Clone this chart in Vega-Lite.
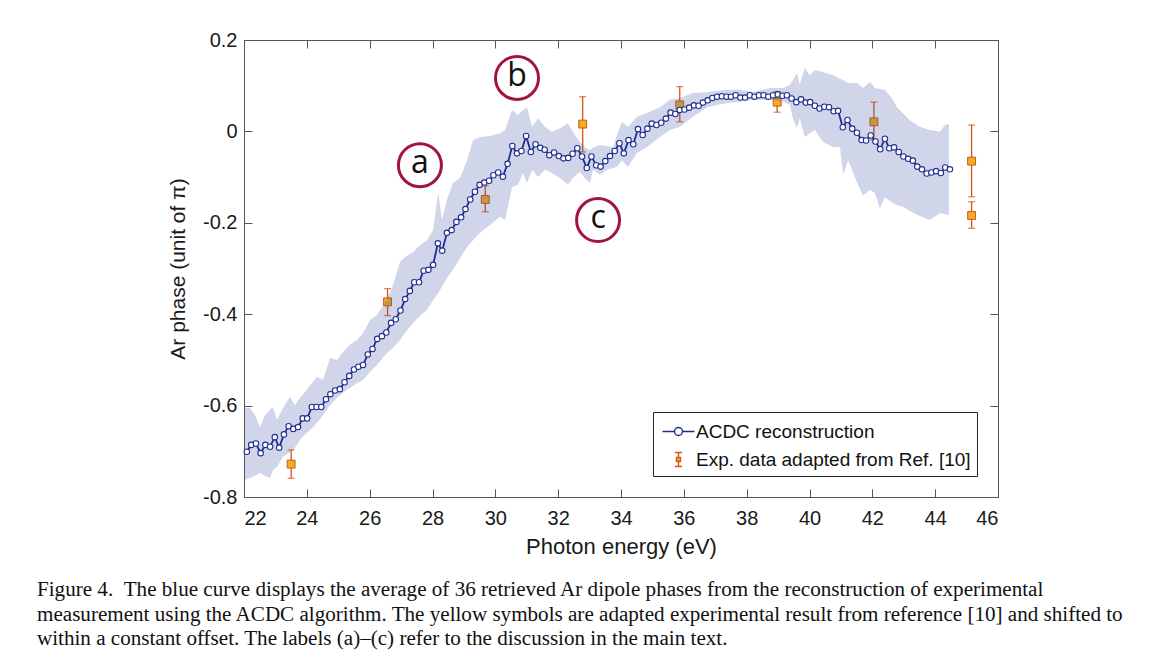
{
  "$schema": "https://vega.github.io/schema/vega-lite/v6.json",
  "width": 754,
  "height": 457,
  "autosize": {"type": "none"},
  "padding": {"left": 244, "top": 40, "right": 167, "bottom": 171},
  "background": "white",
  "config": {
    "view": {"stroke": null},
    "axis": {
      "grid": false,
      "domainColor": "#555555",
      "tickColor": "#555555",
      "labelColor": "#1a1a1a",
      "titleColor": "#1a1a1a",
      "labelFont": "Liberation Sans",
      "titleFont": "Liberation Sans",
      "labelFontSize": 20,
      "titleFontSize": 21,
      "titleFontWeight": "normal",
      "tickSize": -8,
      "domainWidth": 1,
      "tickWidth": 1
    }
  },
  "title": {
    "text": [
      "Figure 4.\u00a0\u00a0The blue curve displays the average of 36 retrieved Ar dipole phases from the reconstruction of experimental",
      "measurement using the ACDC algorithm. The yellow symbols are adapted experimental result from reference [10] and shifted to",
      "within a constant offset. The labels (a)–(c) refer to the discussion in the main text."
    ],
    "orient": "bottom",
    "anchor": "start",
    "frame": "group",
    "align": "left",
    "baseline": "top",
    "dx": -207,
    "offset": 22,
    "font": "Liberation Serif",
    "fontSize": 21.1,
    "fontWeight": "normal",
    "color": "#111111",
    "lineHeight": 24.5
  },
  "datasets": {
    "curve": [
      {"e":22.09,"p":-0.701},{"e":22.23,"p":-0.686},{"e":22.38,"p":-0.683},{"e":22.53,"p":-0.704},{"e":22.68,"p":-0.686},
      {"e":22.83,"p":-0.690},{"e":22.98,"p":-0.669},{"e":23.12,"p":-0.692},{"e":23.27,"p":-0.663},{"e":23.42,"p":-0.645},
      {"e":23.57,"p":-0.651},{"e":23.72,"p":-0.647},{"e":23.87,"p":-0.628},{"e":24.01,"p":-0.628},{"e":24.16,"p":-0.603},
      {"e":24.31,"p":-0.603},{"e":24.46,"p":-0.603},{"e":24.61,"p":-0.586},{"e":24.75,"p":-0.575},{"e":24.90,"p":-0.567},
      {"e":25.05,"p":-0.564},{"e":25.20,"p":-0.549},{"e":25.35,"p":-0.535},{"e":25.50,"p":-0.521},{"e":25.64,"p":-0.515},
      {"e":25.79,"p":-0.511},{"e":25.94,"p":-0.488},{"e":26.09,"p":-0.476},{"e":26.24,"p":-0.454},{"e":26.39,"p":-0.448},
      {"e":26.53,"p":-0.440},{"e":26.68,"p":-0.419},{"e":26.83,"p":-0.411},{"e":26.98,"p":-0.392},{"e":27.13,"p":-0.367},
      {"e":27.28,"p":-0.349},{"e":27.42,"p":-0.330},{"e":27.57,"p":-0.330},{"e":27.72,"p":-0.305},{"e":27.87,"p":-0.303},
      {"e":28.02,"p":-0.292},{"e":28.17,"p":-0.245},{"e":28.31,"p":-0.261},{"e":28.46,"p":-0.222},{"e":28.61,"p":-0.216},
      {"e":28.76,"p":-0.198},{"e":28.91,"p":-0.188},{"e":29.05,"p":-0.170},{"e":29.20,"p":-0.149},{"e":29.35,"p":-0.132},
      {"e":29.50,"p":-0.117},{"e":29.65,"p":-0.112},{"e":29.80,"p":-0.108},{"e":29.94,"p":-0.096},{"e":30.09,"p":-0.090},
      {"e":30.24,"p":-0.099},{"e":30.39,"p":-0.071},{"e":30.54,"p":-0.032},{"e":30.69,"p":-0.048},{"e":30.83,"p":-0.043},
      {"e":30.98,"p":-0.010},{"e":31.13,"p":-0.045},{"e":31.28,"p":-0.028},{"e":31.43,"p":-0.036},{"e":31.57,"p":-0.040},
      {"e":31.72,"p":-0.052},{"e":31.87,"p":-0.046},{"e":32.02,"p":-0.054},{"e":32.17,"p":-0.059},{"e":32.32,"p":-0.058},
      {"e":32.46,"p":-0.049},{"e":32.61,"p":-0.037},{"e":32.76,"p":-0.055},{"e":32.91,"p":-0.080},{"e":33.06,"p":-0.055},
      {"e":33.21,"p":-0.074},{"e":33.35,"p":-0.077},{"e":33.50,"p":-0.065},{"e":33.65,"p":-0.054},{"e":33.80,"p":-0.043},
      {"e":33.95,"p":-0.026},{"e":34.09,"p":-0.048},{"e":34.24,"p":-0.019},{"e":34.39,"p":-0.028},{"e":34.54,"p":0.005},
      {"e":34.69,"p":-0.008},{"e":34.84,"p":0.006},{"e":34.98,"p":0.017},{"e":35.13,"p":0.014},{"e":35.28,"p":0.019},
      {"e":35.43,"p":0.028},{"e":35.58,"p":0.041},{"e":35.73,"p":0.038},{"e":35.87,"p":0.047},{"e":36.02,"p":0.048},
      {"e":36.17,"p":0.052},{"e":36.32,"p":0.057},{"e":36.47,"p":0.056},{"e":36.61,"p":0.063},{"e":36.76,"p":0.068},
      {"e":36.91,"p":0.073},{"e":37.06,"p":0.076},{"e":37.21,"p":0.077},{"e":37.36,"p":0.076},{"e":37.50,"p":0.076},
      {"e":37.65,"p":0.079},{"e":37.80,"p":0.074},{"e":37.95,"p":0.074},{"e":38.10,"p":0.079},{"e":38.25,"p":0.076},
      {"e":38.39,"p":0.079},{"e":38.54,"p":0.079},{"e":38.69,"p":0.076},{"e":38.84,"p":0.079},{"e":38.99,"p":0.081},
      {"e":39.14,"p":0.078},{"e":39.28,"p":0.079},{"e":39.43,"p":0.072},{"e":39.58,"p":0.064},{"e":39.73,"p":0.070},
      {"e":39.88,"p":0.063},{"e":40.02,"p":0.064},{"e":40.17,"p":0.056},{"e":40.32,"p":0.050},{"e":40.47,"p":0.054},
      {"e":40.62,"p":0.053},{"e":40.77,"p":0.044},{"e":40.91,"p":0.045},{"e":41.06,"p":0.009},{"e":41.21,"p":0.025},
      {"e":41.36,"p":0.006},{"e":41.51,"p":-0.003},{"e":41.66,"p":-0.019},{"e":41.80,"p":-0.020},{"e":41.95,"p":-0.009},
      {"e":42.10,"p":-0.022},{"e":42.25,"p":-0.039},{"e":42.40,"p":-0.016},{"e":42.54,"p":-0.037},{"e":42.69,"p":-0.035},
      {"e":42.84,"p":-0.045},{"e":42.99,"p":-0.055},{"e":43.14,"p":-0.060},{"e":43.29,"p":-0.064},{"e":43.43,"p":-0.077},
      {"e":43.58,"p":-0.083},{"e":43.73,"p":-0.092},{"e":43.88,"p":-0.090},{"e":44.03,"p":-0.087},{"e":44.18,"p":-0.091},
      {"e":44.32,"p":-0.079},{"e":44.47,"p":-0.083}
    ],
    "band": [
      {"e":22.03,"hi":-0.605,"lo":-0.763},{"e":22.19,"hi":-0.605,"lo":-0.758},{"e":22.35,"hi":-0.621,"lo":-0.754},
      {"e":22.51,"hi":-0.647,"lo":-0.747},{"e":22.67,"hi":-0.621,"lo":-0.754},{"e":22.83,"hi":-0.609,"lo":-0.758},
      {"e":22.92,"hi":-0.603,"lo":-0.741},{"e":23.05,"hi":-0.631,"lo":-0.734},{"e":23.24,"hi":-0.605,"lo":-0.712},
      {"e":23.46,"hi":-0.581,"lo":-0.702},{"e":23.62,"hi":-0.599,"lo":-0.693},{"e":23.78,"hi":-0.583,"lo":-0.675},
      {"e":23.94,"hi":-0.570,"lo":-0.664},{"e":24.20,"hi":-0.548,"lo":-0.647},{"e":24.32,"hi":-0.537,"lo":-0.638},
      {"e":24.51,"hi":-0.544,"lo":-0.621},{"e":24.74,"hi":-0.496,"lo":-0.599},{"e":24.96,"hi":-0.500,"lo":-0.583},
      {"e":25.15,"hi":-0.483,"lo":-0.572},{"e":25.37,"hi":-0.467,"lo":-0.561},{"e":25.60,"hi":-0.456,"lo":-0.551},
      {"e":25.79,"hi":-0.441,"lo":-0.544},{"e":26.01,"hi":-0.413,"lo":-0.526},{"e":26.23,"hi":-0.402,"lo":-0.511},
      {"e":26.55,"hi":-0.369,"lo":-0.485},{"e":26.74,"hi":-0.336,"lo":-0.474},{"e":26.97,"hi":-0.286,"lo":-0.456},
      {"e":27.12,"hi":-0.275,"lo":-0.441},{"e":27.38,"hi":-0.264,"lo":-0.419},{"e":27.60,"hi":-0.249,"lo":-0.404},
      {"e":27.82,"hi":-0.238,"lo":-0.391},{"e":28.02,"hi":-0.216,"lo":-0.369},{"e":28.18,"hi":-0.133,"lo":-0.354},
      {"e":28.30,"hi":-0.194,"lo":-0.340},{"e":28.46,"hi":-0.150,"lo":-0.321},{"e":28.65,"hi":-0.113,"lo":-0.303},
      {"e":28.88,"hi":-0.102,"lo":-0.277},{"e":29.10,"hi":-0.063,"lo":-0.253},{"e":29.29,"hi":-0.019,"lo":-0.238},
      {"e":29.51,"hi":-0.012,"lo":-0.222},{"e":29.83,"hi":-0.010,"lo":-0.205},{"e":30.15,"hi":-0.004,"lo":-0.187},
      {"e":30.31,"hi":0.003,"lo":-0.194},{"e":30.53,"hi":0.047,"lo":-0.122},{"e":30.72,"hi":0.036,"lo":-0.117},
      {"e":30.88,"hi":0.047,"lo":-0.091},{"e":31.01,"hi":0.053,"lo":-0.113},{"e":31.17,"hi":0.010,"lo":-0.084},
      {"e":31.36,"hi":0.029,"lo":-0.100},{"e":31.58,"hi":0.010,"lo":-0.084},{"e":31.80,"hi":-0.001,"lo":-0.091},
      {"e":32.06,"hi":0.007,"lo":-0.102},{"e":32.31,"hi":0.018,"lo":-0.117},{"e":32.47,"hi":-0.001,"lo":-0.102},
      {"e":32.69,"hi":-0.023,"lo":-0.089},{"e":32.85,"hi":-0.034,"lo":-0.102},{"e":33.01,"hi":-0.041,"lo":-0.113},
      {"e":33.11,"hi":-0.036,"lo":-0.084},{"e":33.33,"hi":-0.030,"lo":-0.095},{"e":33.55,"hi":-0.032,"lo":-0.084},
      {"e":33.75,"hi":-0.034,"lo":-0.080},{"e":33.87,"hi":-0.008,"lo":-0.078},{"e":34.03,"hi":0.021,"lo":-0.063},
      {"e":34.22,"hi":0.010,"lo":-0.078},{"e":34.51,"hi":0.032,"lo":-0.047},{"e":34.83,"hi":0.040,"lo":-0.034},
      {"e":35.24,"hi":0.053,"lo":-0.012},{"e":35.56,"hi":0.069,"lo":0.003},{"e":35.88,"hi":0.073,"lo":0.010},
      {"e":36.29,"hi":0.084,"lo":0.032},{"e":36.74,"hi":0.086,"lo":0.053},{"e":37.37,"hi":0.091,"lo":0.062},
      {"e":37.79,"hi":0.091,"lo":0.065},{"e":38.20,"hi":0.086,"lo":0.069},{"e":38.74,"hi":0.095,"lo":0.069},
      {"e":39.16,"hi":0.095,"lo":0.065},{"e":39.38,"hi":0.102,"lo":0.058},{"e":39.47,"hi":0.112,"lo":0.029},
      {"e":39.60,"hi":0.128,"lo":0.007},{"e":39.69,"hi":0.102,"lo":0.029},{"e":39.85,"hi":0.139,"lo":-0.012},
      {"e":40.01,"hi":0.123,"lo":-0.004},{"e":40.17,"hi":0.134,"lo":0.003},{"e":40.43,"hi":0.130,"lo":-0.023},
      {"e":40.75,"hi":0.123,"lo":-0.034},{"e":40.97,"hi":0.115,"lo":-0.034},{"e":41.07,"hi":0.112,"lo":-0.095},
      {"e":41.23,"hi":0.106,"lo":-0.063},{"e":41.51,"hi":0.106,"lo":-0.111},{"e":41.70,"hi":0.095,"lo":-0.140},
      {"e":41.93,"hi":0.108,"lo":-0.128},{"e":42.08,"hi":0.095,"lo":-0.135},{"e":42.24,"hi":0.093,"lo":-0.168},
      {"e":42.40,"hi":0.091,"lo":-0.144},{"e":42.66,"hi":0.069,"lo":-0.157},{"e":42.78,"hi":0.053,"lo":-0.161},
      {"e":42.97,"hi":0.040,"lo":-0.165},{"e":43.20,"hi":0.024,"lo":-0.174},{"e":43.51,"hi":0.010,"lo":-0.185},
      {"e":43.83,"hi":0.003,"lo":-0.194},{"e":44.15,"hi":-0.001,"lo":-0.179},{"e":44.31,"hi":0.014,"lo":-0.181},
      {"e":44.44,"hi":0.016,"lo":-0.183}
    ],
    "exp": [
      {"e":23.50,"p":-0.728,"hi":-0.697,"lo":-0.759},
      {"e":26.57,"p":-0.373,"hi":-0.344,"lo":-0.403},
      {"e":29.68,"p":-0.149,"hi":-0.119,"lo":-0.176},
      {"e":32.78,"p":0.016,"hi":0.076,"lo":-0.045},
      {"e":35.87,"p":0.058,"hi":0.098,"lo":0.021},
      {"e":38.97,"p":0.064,"hi":0.087,"lo":0.042},
      {"e":42.05,"p":0.021,"hi":0.064,"lo":-0.019},
      {"e":45.16,"p":-0.065,"hi":0.014,"lo":-0.143},
      {"e":45.16,"p":-0.184,"hi":-0.154,"lo":-0.212}
    ],
    "notes": [
      {"e":27.60,"p":-0.074,"t":"a"},
      {"e":30.69,"p":0.117,"t":"b"},
      {"e":33.27,"p":-0.194,"t":"c"}
    ],
    "series": [
      {"series":"ACDC reconstruction"},
      {"series":"Exp. data adapted from Ref. [10]"}
    ]
  },
  "layer": [
    {
      "data": {"name": "exp"},
      "mark": {"type": "rule", "color": "#D95319", "strokeWidth": 1.3},
      "encoding": {
        "x": {"field": "e", "type": "quantitative", "scale": {"domain": [22, 46], "nice": false, "zero": false},
              "axis": {"orient": "bottom", "values": [22,24,26,28,30,32,34,36,38,40,42,44,46], "title": "Photon energy (eV)", "labelPadding": 19, "titlePadding": 8, "titleFontSize": 22}},
        "y": {"field": "lo", "type": "quantitative", "scale": {"domain": [-0.8, 0.2], "nice": false, "zero": false},
              "axis": {"orient": "left", "values": [-0.8,-0.6,-0.4,-0.2,0,0.2], "title": "Ar phase (unit of π)", "labelPadding": 15, "titlePadding": 14,
                       "labelExpr": "datum.value == 0 ? '0' : (datum.value < 0 ? '-' + format(-datum.value, '.1f') : format(datum.value, '.1f'))"}},
        "y2": {"field": "hi"}
      }
    },
    {
      "data": {"name": "exp"},
      "mark": {"type": "tick", "orient": "horizontal", "color": "#D95319", "size": 7, "thickness": 1.3},
      "encoding": {
        "x": {"field": "e", "type": "quantitative", "scale": {"domain": [22, 46], "nice": false, "zero": false},
              "axis": {"orient": "top", "values": [22,24,26,28,30,32,34,36,38,40,42,44,46], "labels": false, "title": null}},
        "y": {"field": "lo", "type": "quantitative", "scale": {"domain": [-0.8, 0.2], "nice": false, "zero": false},
              "axis": {"orient": "right", "values": [-0.8,-0.6,-0.4,-0.2,0,0.2], "labels": false, "title": null}}
      }
    },
    {
      "data": {"name": "exp"},
      "mark": {"type": "tick", "orient": "horizontal", "color": "#D95319", "size": 7, "thickness": 1.3},
      "encoding": {
        "x": {"field": "e", "type": "quantitative", "axis": null},
        "y": {"field": "hi", "type": "quantitative", "axis": null}
      }
    },
    {
      "data": {"name": "exp"},
      "mark": {"type": "point", "shape": "square", "filled": true, "size": 62, "fill": "#EDB120", "stroke": "#D95319", "strokeWidth": 1, "opacity": 1},
      "encoding": {
        "x": {"field": "e", "type": "quantitative", "axis": null},
        "y": {"field": "p", "type": "quantitative", "axis": null}
      }
    },
    {
      "data": {"name": "band"},
      "mark": {"type": "area", "color": "#3B4FA8", "opacity": 0.24},
      "encoding": {
        "x": {"field": "e", "type": "quantitative", "axis": null},
        "y": {"field": "lo", "type": "quantitative", "axis": null},
        "y2": {"field": "hi"}
      }
    },
    {
      "data": {"name": "curve"},
      "mark": {"type": "line", "color": "#1F2F8F", "strokeWidth": 1.8},
      "encoding": {
        "x": {"field": "e", "type": "quantitative", "axis": null},
        "y": {"field": "p", "type": "quantitative", "axis": null}
      }
    },
    {
      "data": {"name": "curve"},
      "mark": {"type": "point", "shape": "circle", "filled": true, "size": 30, "fill": "white", "stroke": "#1F2F8F", "strokeWidth": 1.1, "opacity": 1},
      "encoding": {
        "x": {"field": "e", "type": "quantitative", "axis": null},
        "y": {"field": "p", "type": "quantitative", "axis": null}
      }
    },
    {
      "data": {"name": "notes"},
      "mark": {"type": "point", "shape": "circle", "filled": false, "size": 1850, "stroke": "#A3133F", "strokeWidth": 3, "opacity": 1},
      "encoding": {
        "x": {"field": "e", "type": "quantitative", "axis": null},
        "y": {"field": "p", "type": "quantitative", "axis": null}
      }
    },
    {
      "data": {"name": "notes"},
      "mark": {"type": "text", "font": "Open Sans", "fontSize": 32, "color": "#111111", "baseline": "middle", "align": "center", "dy": -2},
      "encoding": {
        "x": {"field": "e", "type": "quantitative", "axis": null},
        "y": {"field": "p", "type": "quantitative", "axis": null},
        "text": {"field": "t"}
      }
    },
    {
      "data": {"name": "series"},
      "transform": [{"filter": "false"}],
      "mark": {"type": "point", "filled": true, "strokeWidth": 1.4, "opacity": 1},
      "encoding": {
        "stroke": {"field": "series", "type": "nominal",
                   "scale": {"domain": ["ACDC reconstruction", "Exp. data adapted from Ref. [10]"], "range": ["#1F2F8F", "#D95319"]},
                   "legend": {"title": null, "orient": "bottom-right", "offset": 21, "padding": 6, "symbolOffset": 6, "labelOffset": 4, "rowPadding": 4,
                              "strokeColor": "#262626", "fillColor": "white", "labelFont": "Liberation Sans", "labelFontSize": 19, "labelColor": "#111111",
                              "symbolSize": 625, "symbolStrokeWidth": 1.4, "labelLimit": 400}},
        "fill": {"field": "series", "type": "nominal",
                 "scale": {"domain": ["ACDC reconstruction", "Exp. data adapted from Ref. [10]"], "range": ["#FFFFFF", "#EDB120"]},
                 "legend": {"title": null, "orient": "bottom-right", "offset": 21, "padding": 6, "symbolOffset": 6, "labelOffset": 4, "rowPadding": 4,
                            "strokeColor": "#262626", "fillColor": "white", "labelFont": "Liberation Sans", "labelFontSize": 19, "labelColor": "#111111",
                            "symbolSize": 625, "symbolStrokeWidth": 1.4, "labelLimit": 400}},
        "shape": {"field": "series", "type": "nominal",
                  "scale": {"domain": ["ACDC reconstruction", "Exp. data adapted from Ref. [10]"],
                            "range": ["M-1.28,0H-0.32M0.32,0H1.28M0.32,0A0.32,0.32 0 1 1 -0.32,0A0.32,0.32 0 1 1 0.32,0Z",
                                      "M0,-0.56V-0.16M0,0.16V0.56M-0.28,-0.56H0.28M-0.28,0.56H0.28M-0.16,-0.16H0.16V0.16H-0.16Z"]},
                  "legend": {"title": null, "orient": "bottom-right", "offset": 21, "padding": 6, "symbolOffset": 6, "labelOffset": 4, "rowPadding": 4,
                             "strokeColor": "#262626", "fillColor": "white", "labelFont": "Liberation Sans", "labelFontSize": 19, "labelColor": "#111111",
                             "symbolSize": 625, "symbolStrokeWidth": 1.4, "labelLimit": 400}}
      }
    }
  ],
  "resolve": {"axis": {"x": "independent", "y": "independent"}}
}
